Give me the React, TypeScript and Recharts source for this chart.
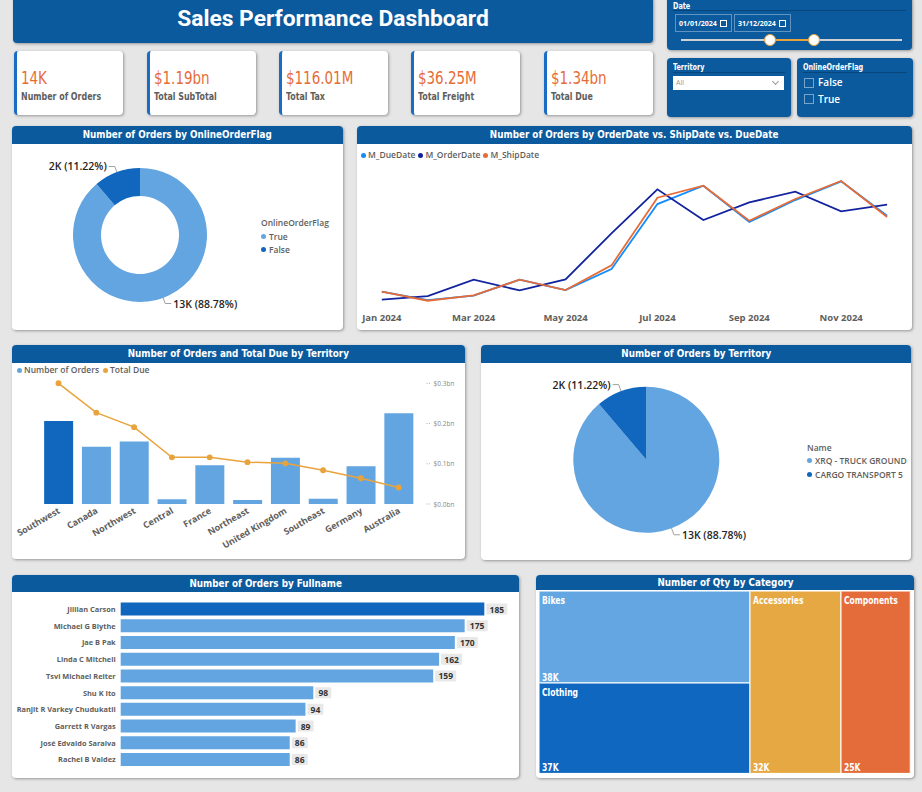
import React from "react";
import {
  PieChart,
  Pie,
  Cell,
  LineChart,
  Line,
  XAxis,
  YAxis,
  Legend,
  ComposedChart,
  Bar,
  BarChart,
  LabelList,
  Treemap,
} from "recharts";

const BLUE = "#0B5A9E";
const LIGHT = "#62A5E0";
const DARK = "#1167BD";
const ORANGE = "#E66C37";
const GOLD = "#E8A33C";
const GREY = "#605E5C";
const INK = "#252423";
const NARROW = "'DejaVu Sans Condensed', 'DejaVu Sans', sans-serif";
const UI = "'Open Sans', 'Noto Sans', sans-serif";
const SHADOW = "1px 1px 3px rgba(0,0,0,0.35)";

// ---- data ----
const flagNames = ["True", "False"];
const flagOrders = [12666, 1601];

const shipMethods = ["XRQ - TRUCK GROUND", "CARGO TRANSPORT 5"];
const shipOrders = [12666, 1601];

const months = [
  "Jan 2024", "Feb 2024", "Mar 2024", "Apr 2024", "May 2024", "Jun 2024",
  "Jul 2024", "Aug 2024", "Sep 2024", "Oct 2024", "Nov 2024", "Dec 2024",
];
const dueDateOrders = [475, 356, 418, 645, 498, 797, 1722, 1983, 1466, 1779, 2045, 1556];
const orderDateOrders = [361, 413, 645, 493, 650, 1305, 1931, 1495, 1746, 1898, 1618, 1713];
const shipDateOrders = [475, 346, 422, 645, 498, 849, 1813, 1983, 1485, 1794, 2050, 1537];

const territories = [
  "Southwest", "Canada", "Northwest", "Central", "France",
  "Northeast", "United Kingdom", "Southeast", "Germany", "Australia",
];
const territoryOrders = [2753, 1898, 2073, 154, 1283, 132, 1536, 176, 1251, 3011];
const territoryDueM = [300, 227, 191, 116, 116, 104, 101, 84, 64, 41];

const people = [
  "Jillian Carson", "Michael G Blythe", "Jae B Pak", "Linda C Mitchell", "Tsvi Michael Reiter",
  "Shu K Ito", "Ranjit R Varkey Chudukatil", "Garrett R Vargas", "José Edvaldo Saraiva", "Rachel B Valdez",
];
const peopleOrders = [185, 175, 170, 162, 159, 98, 94, 89, 86, 86];

const categories = ["Bikes", "Clothing", "Accessories", "Components"];
const categoryQty = [38100, 37200, 32400, 24900];
const categoryColors = ["#64A6E1", "#0F67BF", "#E6A843", "#E46C3A"];

const kpiLabels = ["Number of Orders", "Total SubTotal", "Total Tax", "Total Freight", "Total Due"];

// ---- derived tables ----
const fmtK = (v: number) => `${Math.round(v / 1000)}K`;
const totalOrders = flagOrders.reduce((a, b) => a + b, 0);
const totalDue = territoryDueM.reduce((a, b) => a + b, 0);
const kpiValues = [fmtK(totalOrders), "$1.19bn", "$116.01M", "$36.25M", `$${(totalDue / 1000).toFixed(2)}bn`];

const flagData = flagNames.map((name, i) => ({ name, value: flagOrders[i] }));
const shipData = shipMethods.map((name, i) => ({ name, value: shipOrders[i] }));
const monthData = months.map((m, i) => ({
  month: m,
  M_DueDate: dueDateOrders[i],
  M_OrderDate: orderDateOrders[i],
  M_ShipDate: shipDateOrders[i],
}));
const territoryData = territories.map((t, i) => ({ name: t, orders: territoryOrders[i], due: territoryDueM[i] }));
const peopleData = people.map((p, i) => ({ name: p, orders: peopleOrders[i] }));
const categoryData = categories.map((c, i) => ({ name: c, size: categoryQty[i] }));

const RAD = Math.PI / 180;

// narrow the condensed face a bit further (titles, cards, treemap)
function Squeeze({ k, origin = "left", children }: { k: number; origin?: string; children: React.ReactNode }) {
  return (
    <span style={{ display: "inline-block", transform: `scaleX(${k})`, transformOrigin: origin, whiteSpace: "nowrap" }}>
      {children}
    </span>
  );
}

// slice label with a short elbow leader line
const sliceLabel = (bump: number) => (p: any) => {
  const { cx, cy, midAngle, outerRadius, value, percent } = p;
  const cos = Math.cos(-midAngle * RAD);
  const sin = Math.sin(-midAngle * RAD);
  const sx = cx + outerRadius * cos;
  const sy = cy + outerRadius * sin;
  const mx = cx + (outerRadius + bump) * cos;
  const my = cy + (outerRadius + bump) * sin;
  const dir = cos >= 0 ? 1 : -1;
  const ex = mx + dir * 6;
  return (
    <g>
      <polyline points={`${sx},${sy} ${mx},${my} ${ex},${my}`} fill="none" stroke="#A0A0A0" strokeWidth={1} />
      <text
        x={ex + dir * 2}
        y={my}
        textAnchor={dir > 0 ? "start" : "end"}
        dominantBaseline="central"
        fontFamily={UI}
        fontSize={10.5}
        fontWeight={600}
        fill={INK}
      >
        {`${fmtK(value)} (${(percent * 100).toFixed(2)}%)`}
      </text>
    </g>
  );
};

function LegendList({ title, items }: { title: string; items: { label: string; color: string }[] }) {
  return (
    <div style={{ fontFamily: UI, fontSize: 8.5, fontWeight: 600, color: GREY, lineHeight: "13.5px", whiteSpace: "nowrap" }}>
      <div>{title}</div>
      {items.map((it) => (
        <div key={it.label} style={{ display: "flex", alignItems: "center" }}>
          <span style={{ width: 5, height: 5, borderRadius: 3, background: it.color, marginRight: 3 }} />
          {it.label}
        </div>
      ))}
    </div>
  );
}

function InlineLegend({ items, gap }: { items: { label: string; color: string }[]; gap: number }) {
  return (
    <div style={{ display: "flex", fontFamily: UI, fontSize: 8.5, fontWeight: 600, color: GREY, whiteSpace: "nowrap", lineHeight: "12px" }}>
      {items.map((it) => (
        <div key={it.label} style={{ display: "flex", alignItems: "center", marginRight: gap }}>
          <span style={{ width: 5, height: 5, borderRadius: 3, background: it.color, marginRight: 2 }} />
          {it.label}
        </div>
      ))}
    </div>
  );
}

function Panel(props: { x: number; y: number; w: number; h: number; head: number; title: string; children?: React.ReactNode }) {
  const { x, y, w, h, head, title, children } = props;
  return (
    <div
      style={{
        position: "absolute", left: x, top: y, width: w, height: h, background: "#fff",
        borderRadius: 4, boxShadow: SHADOW, overflow: "hidden",
      }}
    >
      <div
        style={{
          height: head, background: BLUE, color: "#fff", fontFamily: NARROW, fontWeight: 700,
          fontSize: 11, textAlign: "center", lineHeight: `${head}px`,
        }}
      >
        <Squeeze k={0.89} origin="center">{title}</Squeeze>
      </div>
      {children}
    </div>
  );
}

const DueTick = (p: any) => {
  const { x, y, payload } = p;
  return (
    <g>
      <line x1={x + 9} x2={x + 13} y1={y} y2={y} stroke="#B0B0B0" strokeDasharray="1 1.5" />
      <text x={x + 16} y={y} dominantBaseline="central" fontFamily={UI} fontSize={6.5} fill="#8A8886">
        {`$${(payload.value / 1000).toFixed(1)}bn`}
      </text>
    </g>
  );
};

const NameTick = (p: any) => {
  const { x, y, payload } = p;
  return (
    <text x={x} y={y} textAnchor="end" dominantBaseline="central" fontFamily={UI} fontSize={7.4} fontWeight={700} fill={GREY}>
      {payload.value}
    </text>
  );
};

const ValueBadge = (p: any) => {
  const { x, y, width, height, value } = p;
  const bx = x + width + 2;
  const w = String(value).length * 5 + 6;
  const cy = y + height / 2;
  return (
    <g>
      <rect x={bx} y={cy - 5.5} width={w} height={11} fill="#E8E8E8" rx={1} />
      <text x={bx + w / 2} y={cy} textAnchor="middle" dominantBaseline="central" fontFamily={UI} fontSize={8.5} fontWeight={700} fill="#333">
        {value}
      </text>
    </g>
  );
};

const TreeCell = (p: any) => {
  const { x, y, width, height, name, value, depth } = p;
  if (depth !== 1) return null;
  const fill = categoryColors[categories.indexOf(name)];
  const tag = (ty: number, s: string) => (
    <text
      transform={`translate(${x + 3},${ty}) scale(0.85,1)`}
      dominantBaseline="central"
      fontFamily={NARROW}
      fontSize={10}
      fontWeight={700}
      fill="#fff"
    >
      {s}
    </text>
  );
  return (
    <g>
      <rect x={x} y={y} width={width} height={height} fill={fill} stroke="#fff" strokeOpacity={0.7} strokeWidth={1.5} />
      {tag(y + 9, name)}
      {tag(y + height - 6, fmtK(value))}
    </g>
  );
};

function Kpi({ x, value, label }: { x: number; value: string; label: string }) {
  return (
    <div
      style={{
        position: "absolute", left: x, top: 51, width: 109, height: 64, background: "#fff", borderRadius: 4,
        borderLeft: "3px solid #1A6CC4", boxShadow: SHADOW, boxSizing: "border-box",
      }}
    >
      <div style={{ position: "absolute", left: 4, top: 17, fontFamily: NARROW, fontSize: 17, color: ORANGE, lineHeight: "20px" }}>
        <Squeeze k={0.88}>{value}</Squeeze>
      </div>
      <div style={{ position: "absolute", left: 4, top: 38.5, fontFamily: NARROW, fontSize: 10, fontWeight: 700, color: GREY, lineHeight: "13px" }}>
        <Squeeze k={0.88}>{label}</Squeeze>
      </div>
    </div>
  );
}

function SlicerBox(props: { x: number; y: number; w: number; h: number; label: string; children?: React.ReactNode }) {
  const { x, y, w, h, label, children } = props;
  return (
    <div style={{ position: "absolute", left: x, top: y, width: w, height: h, background: BLUE, borderRadius: 4, boxShadow: SHADOW }}>
      <div style={{ position: "absolute", left: 6, top: y < 0 ? 6 : 5, fontFamily: NARROW, fontSize: 8, fontWeight: 700, color: "#fff", lineHeight: "9px" }}>
        <Squeeze k={0.9}>{label}</Squeeze>
      </div>
      <div style={{ position: "absolute", left: 6, right: 6, top: y < 0 ? 14 : 13.5, height: 1, background: "#08467C" }} />
      {children}
    </div>
  );
}

const kpiX = [14, 146.5, 278.5, 411, 544];

export default function App() {
  return (
    <div style={{ position: "absolute", left: 0, top: 0, width: 922, height: 792, background: "#E6E6E6", overflow: "hidden", fontFamily: UI }}>
      {/* title bar */}
      <div
        style={{
          position: "absolute", left: 13, top: -4, width: 640, height: 46.5, background: BLUE, borderRadius: 4,
          boxShadow: SHADOW, color: "#fff", fontFamily: "Roboto, sans-serif", fontWeight: 700, fontSize: 22.8,
          display: "flex", alignItems: "center", justifyContent: "center", paddingBottom: 2, boxSizing: "border-box",
        }}
      >
        Sales Performance Dashboard
      </div>

      {kpiX.map((x, i) => (
        <Kpi key={kpiLabels[i]} x={x} value={kpiValues[i]} label={kpiLabels[i]} />
      ))}

      {/* date slicer */}
      <SlicerBox x={667} y={-4} w={245} h={54} label="Date">
        {["01/01/2024", "31/12/2024"].map((d, i) => (
          <div
            key={d}
            style={{
              position: "absolute", left: 8 + i * 59, top: 18, width: 57, height: 18, boxSizing: "border-box",
              border: "1px solid rgba(255,255,255,0.35)", color: "#fff", fontFamily: UI, fontSize: 7, fontWeight: 700,
              display: "flex", alignItems: "center", paddingLeft: 3,
            }}
          >
            {d}
            <span style={{ display: "inline-block", width: 5, height: 5, border: "1px solid #fff", marginLeft: 3 }} />
          </div>
        ))}
        <div style={{ position: "absolute", left: 14, width: 221, top: 43, height: 2, background: "#D0D0D0" }} />
        <div style={{ position: "absolute", left: 103, width: 44, top: 43, height: 2, background: GOLD }} />
        {[103, 147].map((cx) => (
          <div
            key={cx}
            style={{
              position: "absolute", left: cx - 6, top: 38, width: 12, height: 12, borderRadius: 6, background: "#fff",
              boxSizing: "border-box", border: `1.5px solid ${GOLD}`,
            }}
          />
        ))}
      </SlicerBox>

      {/* territory slicer */}
      <SlicerBox x={667} y={58} w={124} h={59} label="Territory">
        <div
          style={{
            position: "absolute", left: 6, top: 17.5, width: 111, height: 14.5, background: "#fff", color: "#999",
            fontFamily: UI, fontSize: 7, lineHeight: "14.5px", paddingLeft: 3, boxSizing: "border-box",
          }}
        >
          All
          <span
            style={{
              position: "absolute", right: 6, top: 3.5, width: 4, height: 4, borderRight: "1px solid #999",
              borderBottom: "1px solid #999", transform: "rotate(45deg)",
            }}
          />
        </div>
      </SlicerBox>

      {/* online order flag slicer */}
      <SlicerBox x={797} y={58} w={116} h={59} label="OnlineOrderFlag">
        {["False", "True"].map((t, i) => (
          <div key={t} style={{ position: "absolute", left: 7, top: 19 + i * 16.7, display: "flex", alignItems: "center" }}>
            <span style={{ width: 10, height: 10, boxSizing: "border-box", border: "1px solid rgba(255,255,255,0.45)", marginRight: 4 }} />
            <span style={{ color: "#fff", fontFamily: UI, fontSize: 10, fontWeight: 600, lineHeight: "11px" }}>{t}</span>
          </div>
        ))}
      </SlicerBox>

      {/* donut: orders by online flag */}
      <Panel x={12} y={126} w={331} h={204} head={18} title="Number of Orders by OnlineOrderFlag">
        <PieChart width={331} height={186} margin={{ top: 0, right: 0, bottom: 0, left: 0 }}>
          <Pie
            data={flagData}
            dataKey="value"
            nameKey="name"
            cx={128}
            cy={91}
            innerRadius={39}
            outerRadius={67}
            startAngle={90}
            endAngle={-270}
            stroke="none"
            labelLine={false}
            label={sliceLabel(6)}
            isAnimationActive={false}
          >
            {flagData.map((d, i) => (
              <Cell key={d.name} fill={i === 0 ? LIGHT : DARK} />
            ))}
          </Pie>
          <Legend
            verticalAlign="middle"
            align="center"
            layout="horizontal"
            wrapperStyle={{ left: 249, top: 72, width: "auto" }}
            content={() => (
              <LegendList title="OnlineOrderFlag" items={flagNames.map((n, i) => ({ label: n, color: i === 0 ? LIGHT : DARK }))} />
            )}
          />
        </PieChart>
      </Panel>

      {/* lines: order / ship / due date */}
      <Panel x={357} y={126} w={555} h={204} head={18} title="Number of Orders by OrderDate vs. ShipDate vs. DueDate">
        <LineChart width={555} height={186} data={monthData} margin={{ top: 33.5, right: 24.9, bottom: 0, left: 24.8 }}>
          <XAxis
            dataKey="month"
            scale="point"
            interval={1}
            axisLine={false}
            tickLine={false}
            tickSize={0}
            tickMargin={3}
            height={19}
            tick={{ fontFamily: UI, fontSize: 9.5, fontWeight: 700, fill: GREY }}
          />
          <YAxis hide domain={[200, 2100]} />
          <Line dataKey="M_DueDate" stroke="#118DFF" strokeWidth={1.8} dot={false} isAnimationActive={false} />
          <Line dataKey="M_OrderDate" stroke="#12239E" strokeWidth={1.8} dot={false} isAnimationActive={false} />
          <Line dataKey="M_ShipDate" stroke={ORANGE} strokeWidth={1.8} dot={false} isAnimationActive={false} />
          <Legend
            verticalAlign="middle"
            align="center"
            layout="horizontal"
            wrapperStyle={{ left: 4, top: 5, width: "auto" }}
            content={() => (
              <InlineLegend
                gap={3}
                items={[
                  { label: "M_DueDate", color: "#118DFF" },
                  { label: "M_OrderDate", color: "#12239E" },
                  { label: "M_ShipDate", color: ORANGE },
                ]}
              />
            )}
          />
        </LineChart>
      </Panel>

      {/* bars + line: orders and due by territory */}
      <Panel x={12} y={345} w={453} h={214} head={18} title="Number of Orders and Total Due by Territory">
        <ComposedChart width={453} height={196} data={territoryData} margin={{ top: 20.3, right: 0, bottom: 0, left: 27.6 }} barCategoryGap="12%">
          <XAxis
            dataKey="name"
            interval={0}
            angle={-30}
            textAnchor="end"
            axisLine={false}
            tickLine={false}
            tickSize={0}
            tickMargin={3}
            height={55}
            dx={-1}
            tick={{ fontFamily: UI, fontSize: 9, fontWeight: 700, fill: GREY }}
          />
          <YAxis yAxisId="orders" hide domain={[0, 4000]} />
          <YAxis
            yAxisId="due"
            orientation="right"
            width={47.4}
            domain={[0, 300]}
            ticks={[0, 100, 200, 300]}
            axisLine={false}
            tickLine={false}
            tickSize={0}
            tickMargin={0}
            tick={<DueTick />}
          />
          <Bar yAxisId="orders" dataKey="orders" isAnimationActive={false}>
            {territoryData.map((d, i) => (
              <Cell key={d.name} fill={i === 0 ? DARK : LIGHT} />
            ))}
          </Bar>
          <Line
            yAxisId="due"
            dataKey="due"
            stroke={GOLD}
            strokeWidth={1.5}
            dot={{ r: 2.2, fill: GOLD, stroke: GOLD }}
            isAnimationActive={false}
          />
          <Legend
            verticalAlign="middle"
            align="center"
            layout="horizontal"
            wrapperStyle={{ left: 5, top: 1, width: "auto" }}
            content={() => (
              <InlineLegend
                gap={4}
                items={[
                  { label: "Number of Orders", color: LIGHT },
                  { label: "Total Due", color: GOLD },
                ]}
              />
            )}
          />
        </ComposedChart>
      </Panel>

      {/* pie: orders by ship method */}
      <Panel x={481} y={345} w={430} h={215} head={18} title="Number of Orders by Territory">
        <PieChart width={430} height={197} margin={{ top: 0, right: 0, bottom: 0, left: 0 }}>
          <Pie
            data={shipData}
            dataKey="value"
            nameKey="name"
            cx={165.3}
            cy={96.7}
            outerRadius={73}
            startAngle={90}
            endAngle={-270}
            stroke="none"
            labelLine={false}
            label={sliceLabel(7)}
            isAnimationActive={false}
          >
            {shipData.map((d, i) => (
              <Cell key={d.name} fill={i === 0 ? LIGHT : DARK} />
            ))}
          </Pie>
          <Legend
            verticalAlign="middle"
            align="center"
            layout="horizontal"
            wrapperStyle={{ left: 326, top: 77.5, width: "auto" }}
            content={() => (
              <LegendList title="Name" items={shipMethods.map((n, i) => ({ label: n, color: i === 0 ? LIGHT : DARK }))} />
            )}
          />
        </PieChart>
      </Panel>

      {/* horizontal bars: orders by salesperson */}
      <Panel x={12} y={575} w={507} h={203} head={17} title="Number of Orders by Fullname">
        <BarChart
          width={507}
          height={186}
          data={peopleData}
          layout="vertical"
          margin={{ top: 8.6, right: 5.2, bottom: 10.3, left: 0 }}
          barCategoryGap="12%"
        >
          <XAxis type="number" hide domain={[0, 200]} />
          <YAxis
            type="category"
            dataKey="name"
            width={108.7}
            interval={0}
            axisLine={false}
            tickLine={false}
            tickSize={0}
            tickMargin={5}
            tick={<NameTick />}
          />
          <Bar dataKey="orders" isAnimationActive={false}>
            {peopleData.map((d, i) => (
              <Cell key={d.name} fill={i === 0 ? DARK : LIGHT} />
            ))}
            <LabelList dataKey="orders" content={<ValueBadge />} />
          </Bar>
        </BarChart>
      </Panel>

      {/* treemap: qty by category */}
      <Panel x={536} y={575} w={378} h={203} head={15} title="Number of Qty by Category">
        <div style={{ position: "absolute", left: 3.3, top: 15.7 }}>
          <Treemap
            width={371.4}
            height={182.6}
            data={categoryData}
            dataKey="size"
            nameKey="name"
            content={<TreeCell />}
            isAnimationActive={false}
          />
        </div>
      </Panel>
    </div>
  );
}
